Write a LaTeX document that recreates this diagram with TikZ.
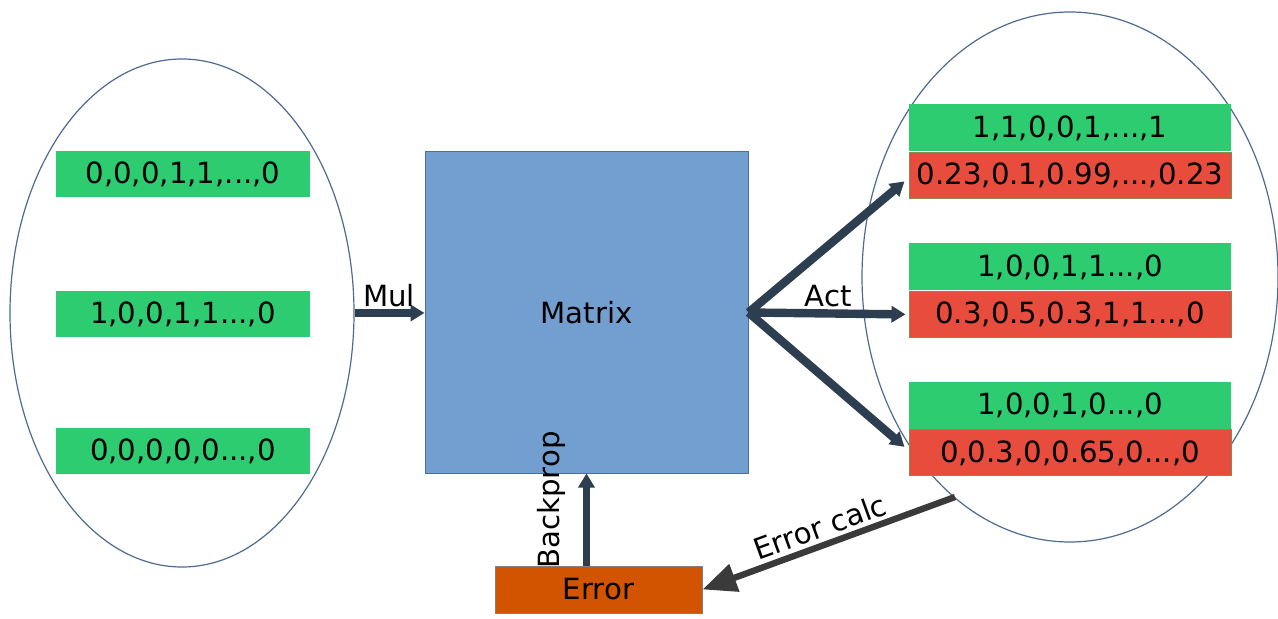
\documentclass[tikz,border=0pt]{standalone}
\usepackage{fontspec}
\setmainfont{DejaVu Sans}
\usetikzlibrary{shapes.geometric,arrows.meta,calc}
\definecolor{vgreen}{HTML}{2ECC71}
\definecolor{vred}{HTML}{E74C3C}
\definecolor{redline}{HTML}{8A8A50}
\definecolor{matfill}{HTML}{729FCF}
\definecolor{matline}{HTML}{4A6F9C}
\definecolor{errfill}{HTML}{D35400}
\definecolor{ellline}{HTML}{4E6A90}
\definecolor{arrdark}{HTML}{2C3E50}
\definecolor{arrgray}{HTML}{3A3A3A}
\tikzset{
  txt/.style={font=\fontsize{14.6}{17}\selectfont, text=black},
  gbox/.style={txt, fill=vgreen, minimum width=127pt, minimum height=23pt, inner sep=0pt},
  rgbox/.style={txt, fill=vgreen, minimum width=161pt, minimum height=23.5pt, inner sep=0pt},
  rrbox/.style={txt, fill=vred, draw=redline, line width=0.5pt, minimum width=161pt, minimum height=23pt, inner sep=0pt},
  group/.style={ellipse, draw=ellline, line width=0.6pt, inner sep=0pt},
  flow/.style={draw=arrdark, line width=3.8pt, -{Triangle[width=8pt,length=7pt]}},
}
\begin{document}
\begin{tikzpicture}[x=0.5pt,y=-0.5pt]
\useasboundingbox (0,0) rectangle (1278,619);

% input vectors
\node[group, minimum width=172pt, minimum height=254pt] (le) at (182,313) {};
\node[gbox] (l1) at (183,174.5) {0,0,0,1,1,...,0};
\node[gbox] (l2) at (183,314) {1,0,0,1,1...,0};
\node[gbox] (l3) at (183,451) {0,0,0,0,0...,0};

% weight matrix
\node[txt, fill=matfill, draw=matline, line width=0.5pt, minimum width=161.5pt, minimum height=160.5pt, inner sep=0pt] (mat) at (586.5,312.5) {Matrix};

% output vectors: targets (green) above activations (red)
\node[group, minimum width=208pt, minimum height=265pt] (re) at (1070,277) {};
\node[rgbox] (r1g) at (1070,128) {1,1,0,0,1,...,1};
\node[rrbox, anchor=north] (r1r) at (r1g.south) {0.23,0.1,0.99,...,0.23};
\node[rgbox] (r2g) at (1070,267) {1,0,0,1,1...,0};
\node[rrbox, anchor=north] (r2r) at (r2g.south) {0.3,0.5,0.3,1,1...,0};
\node[rgbox] (r3g) at (1070,405.5) {1,0,0,1,0...,0};
\node[rrbox, anchor=north] (r3r) at (r3g.south) {0,0.3,0,0.65,0...,0};

% error
\node[txt, fill=errfill, draw=gray, line width=0.5pt, minimum width=103.5pt, minimum height=23.5pt, inner sep=0pt] (err) at (598.5,589.5) {Error};

% multiplication
\draw[flow] (le.east) -- (le.east -| mat.west);
\node[txt] (mul) at (389,296) {Mul};

% activation fan
\coordinate (a1) at ($(r1r.west)+(-4,6)$);
\coordinate (a3) at ($(r3r.west)+(-4,-6)$);
\draw[flow, line width=4.2pt] (mat.east) -- (a1);
\draw[flow, line width=4.2pt] (mat.east) -- ($(r2r.west)+(-3,0)$);
\draw[flow, line width=4.2pt] (mat.east) -- (a3);
\node[txt] (act) at (828,296) {Act};

% backpropagation
\draw[flow] (err.north -| mat.south) -- (mat.south);
\node[txt, rotate=90] (bp) at (551,500) {Backprop};

% error calculation
\coordinate (ec) at (955,497);
\draw[draw=arrgray, line width=3.2pt, -{Triangle[width=14pt,length=17pt]}] (ec) -- (err.east);
\node[txt, rotate=20] (ecl) at (820,527) {Error calc};
\end{tikzpicture}
\end{document}
